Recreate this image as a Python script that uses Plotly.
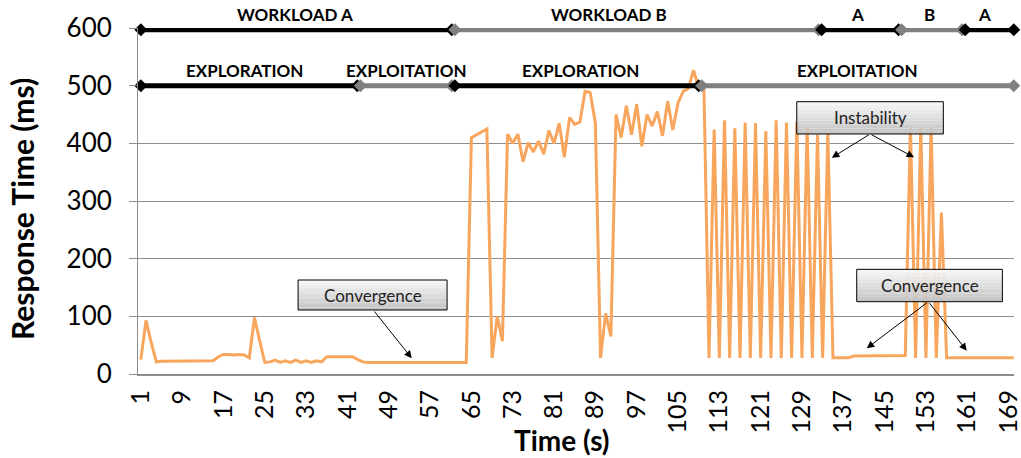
import plotly.graph_objects as go

# ---------------- data ----------------
time_s = list(range(1, 171))
response_ms = [
    25, 93, 55, 21, 22, 22, 22, 22, 22, 22,      # 1-10
    22, 22, 22, 22, 23, 30, 34, 34, 33, 34,      # 11-20
    33, 28, 98, 58, 20, 21, 24, 20, 23, 20,      # 21-30
    24, 20, 23, 20, 23, 21, 30, 30, 30, 30,      # 31-40
    30, 30, 25, 21, 20, 20, 20, 21, 21, 20,      # 41-50
    20, 20, 20, 20, 20, 20, 20, 20, 20, 20,      # 51-60
    20, 20, 20, 20, 410, 415, 420, 425, 28, 100,  # 61-70
    57, 416, 400, 416, 368, 401, 385, 404, 381, 422,  # 71-80
    400, 435, 376, 445, 433, 437, 490, 488, 435, 28,  # 81-90
    105, 65, 450, 410, 465, 415, 468, 395, 450, 430,  # 91-100
    455, 413, 473, 423, 470, 490, 495, 527, 496, 505,  # 101-110
    28, 424, 28, 440, 28, 426, 28, 436, 28, 435,      # 111-120
    28, 421, 28, 440, 28, 436, 28, 438, 28, 430,      # 121-130
    28, 415, 28, 420, 28, 28, 28, 28, 31, 31,         # 131-140
    31, 32, 31, 31, 31, 31, 32, 32, 32, 430,          # 141-150
    28, 430, 28, 430, 28, 280, 28, 28, 28, 28,        # 151-160
    28, 28, 28, 28, 28, 28, 28, 28, 28, 28,           # 161-170
]
x_tick_vals = list(range(1, 170, 8))
y_tick_vals = [0, 100, 200, 300, 400, 500, 600]

workload_bounds = [1, 61.5, 132.5, 148, 160.3, 170]
workload_labels = ["WORKLOAD A", "WORKLOAD B", "A", "B", "A"]
workload_label_t = [30.9, 91.6, 139.7, 153.6, 164.4]

phase_bounds = [1, 43.2, 61.5, 109.3, 170]
phase_labels = ["EXPLORATION", "EXPLOITATION", "EXPLORATION", "EXPLOITATION"]
phase_label_t = [21.0, 52.5, 86.2, 139.7]

FONT = "Lato"
LINE_COLOR = "#F8A65D"
GRID = "#8C8C8C"

fig = go.Figure()
fig.add_trace(go.Scatter(
    x=time_s, y=response_ms, mode="lines",
    line=dict(color=LINE_COLOR, width=3), hoverinfo="skip", showlegend=False,
))

annotations = []
shapes = []


def add_row(bounds, labels, label_t, yval):
    n = len(labels)
    for i in range(n):
        s = bounds[i] + (0.3 if i > 0 else 0)
        e = bounds[i + 1] - (0.3 if i < n - 1 else 0)
        col = "#000000" if i % 2 == 0 else "#808080"
        fig.add_trace(go.Scatter(
            x=[s, e], y=[yval, yval], mode="lines+markers",
            line=dict(color=col, width=5),
            marker=dict(symbol="diamond", size=10, color=col),
            cliponaxis=False, hoverinfo="skip", showlegend=False,
        ))
        annotations.append(dict(
            x=label_t[i], y=yval, xref="x", yref="y", text="<b>%s</b>" % labels[i],
            showarrow=False, yanchor="bottom", yshift=3,
            font=dict(family=FONT, size=17, color="#000000"),
        ))


add_row(workload_bounds, workload_labels, workload_label_t, 597)
add_row(phase_bounds, phase_labels, phase_label_t, 500)


# callout boxes with vertical gradient
def callout(x0, x1, y0, y1, text):
    n = 12
    top = (246, 246, 246)
    bot = (196, 196, 196)
    for k in range(n):
        f = k / (n - 1)
        c = tuple(int(round(top[j] + (bot[j] - top[j]) * f)) for j in range(3))
        ya = y1 - (y1 - y0) * k / n
        yb = y1 - (y1 - y0) * (k + 1) / n
        shapes.append(dict(type="rect", xref="x", yref="y", x0=x0, x1=x1, y0=yb, y1=ya,
                           fillcolor="rgb(%d,%d,%d)" % c, line=dict(width=0), layer="above"))
    shapes.append(dict(type="rect", xref="x", yref="y", x0=x0, x1=x1, y0=y0, y1=y1,
                       fillcolor="rgba(0,0,0,0)", line=dict(color="#000000", width=1),
                       layer="above"))
    annotations.append(dict(x=(x0 + x1) / 2, y=(y0 + y1) / 2, xref="x", yref="y",
                            text=text, showarrow=False,
                            font=dict(family=FONT, size=17, color="#222222")))


callout(31.44, 60.29, 111, 163, "Convergence")
callout(127.99, 156.37, 416.2, 472.2, "Instability")
callout(139.6, 167.8, 125.4, 181.5, "Convergence")

arrows = [
    ((46.0, 111), (53.45, 27.2)),
    ((142.2, 416.2), (134.77, 375.1)),
    ((142.2, 416.2), (150.7, 375.8)),
    ((153.47, 125.4), (141.54, 44.6)),
    ((153.47, 125.4), (160.9, 40.4)),
]
for (tx, ty), (hx, hy) in arrows:
    annotations.append(dict(
        x=hx, y=hy, ax=tx, ay=ty, xref="x", yref="y", axref="x", ayref="y",
        text="", showarrow=True, arrowhead=2, arrowsize=1.5, arrowwidth=1,
        arrowcolor="#000000", standoff=0, startstandoff=0,
    ))

# axis titles
annotations.append(dict(
    x=0, y=0.5, xref="paper", yref="paper", xshift=-116, yshift=-8,
    xanchor="center", yanchor="middle",
    text="<b>Response Time (ms)</b>", textangle=-90, showarrow=False,
    font=dict(family=FONT, size=30, color="#000000"),
))
annotations.append(dict(
    x=0.5, y=0, xref="paper", yref="paper", xshift=-14, yshift=-66,
    xanchor="center", yanchor="middle", text="<b>Time (s)</b>",
    showarrow=False, font=dict(family=FONT, size=28, color="#000000"),
))

fig.update_layout(
    width=1021, height=458,
    margin=dict(l=138, r=7, t=28, b=84, autoexpand=False),
    paper_bgcolor="white", plot_bgcolor="white",
    showlegend=False,
    annotations=annotations,
    shapes=shapes,
    xaxis=dict(
        range=[0.45, 170.05], tickmode="array", tickvals=x_tick_vals,
        ticktext=[str(v) for v in x_tick_vals], tickangle=-90,
        tickfont=dict(family=FONT, size=25, color="#000000"),
        showgrid=False, zeroline=False, showline=True, linecolor=GRID, linewidth=2,
        ticks="", ticklabelstandoff=4, ticklabeloverflow="allow", automargin=False,
    ),
    yaxis=dict(
        range=[0, 600], tickmode="array", tickvals=y_tick_vals,
        tickfont=dict(family=FONT, size=26, color="#000000"),
        showgrid=True, gridcolor=GRID, gridwidth=1, zeroline=False,
        showline=True, linecolor=GRID, linewidth=1, automargin=False,
        ticks="outside", ticklen=8, tickcolor=GRID, ticklabelstandoff=12,
    ),
)

fig.write_html("out.html")
